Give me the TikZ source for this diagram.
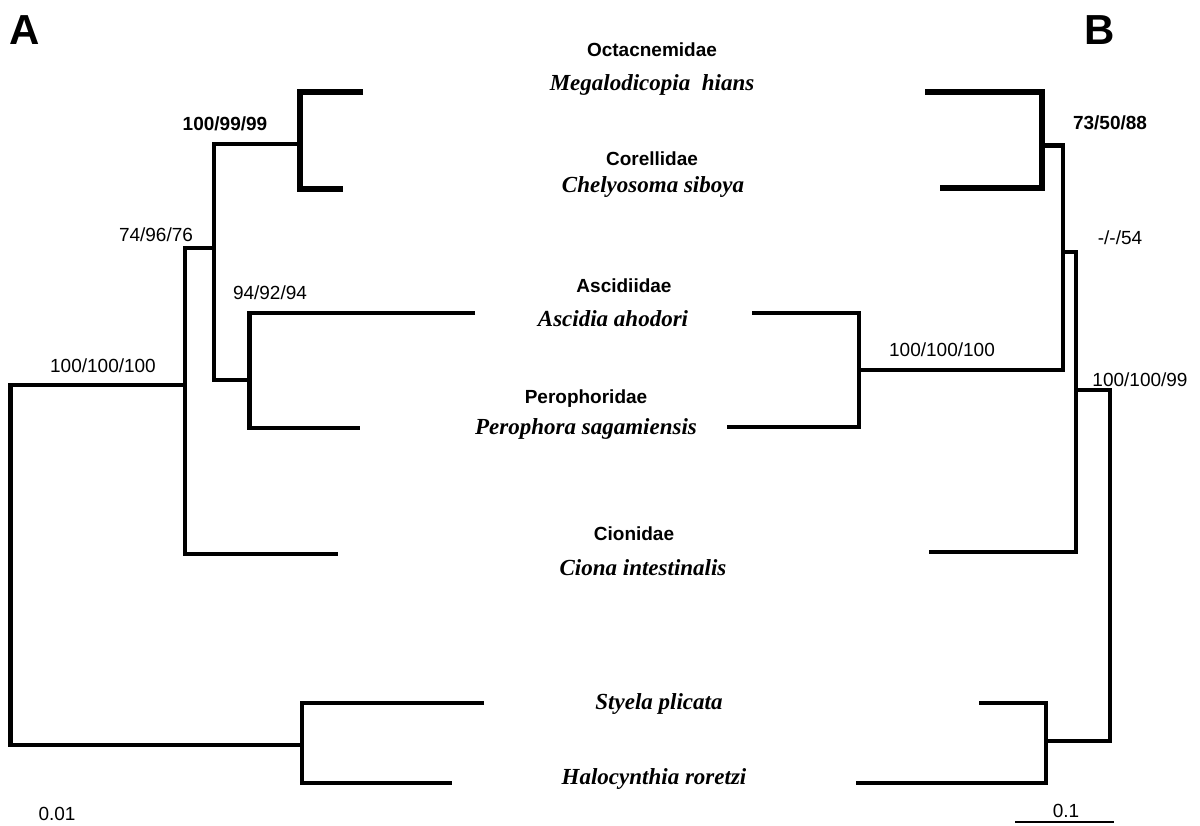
\documentclass[tikz,border=0pt]{standalone}
\usepackage{fontspec}
\setmainfont{Liberation Serif}
\setsansfont{Liberation Sans}
\begin{document}
\begin{tikzpicture}[x=1pt,y=-1pt,
  branch/.style={line width=4.5pt,line join=miter,line cap=butt},
  thickbranch/.style={line width=6.6pt,line join=miter,line cap=butt},
  scalebar/.style={line width=2pt},
  famlabel/.style={font=\sffamily\bfseries\fontsize{19}{19}\selectfont,inner sep=0pt,anchor=base},
  species/.style={font=\rmfamily\bfseries\itshape\fontsize{23}{23}\selectfont,inner sep=0pt,anchor=base},
  support/.style={font=\sffamily\fontsize{19}{19}\selectfont,inner sep=0pt},
  supportbold/.style={font=\sffamily\bfseries\fontsize{19}{19}\selectfont,inner sep=0pt},
  panellabel/.style={font=\sffamily\bfseries\fontsize{42}{42}\selectfont,inner sep=0pt}]
\useasboundingbox (0,0) rectangle (1200,826);

% panel letters
\node[panellabel] (pA) at (25,30) {A};
\node[panellabel] (pB) at (1100,30) {B};

% taxon labels
\node[famlabel] (fOct) at (652,57) {Octacnemidae};
\node[species]  (sMeg) at (652,91) {Megalodicopia\ \ hians};
\node[famlabel] (fCor) at (652,166) {Corellidae};
\node[species]  (sChe) at (653,193) {Chelyosoma siboya};
\node[famlabel] (fAsc) at (624,293) {Ascidiidae};
\node[species]  (sAsc) at (613,327) {Ascidia ahodori};
\node[famlabel] (fPer) at (586,403) {Perophoridae};
\node[species]  (sPer) at (586,434) {Perophora sagamiensis};
\node[famlabel] (fCio) at (634,540) {Cionidae};
\node[species]  (sCio) at (643,575) {Ciona intestinalis};
\node[species]  (sSty) at (659,709) {Styela plicata};
\node[species]  (sHal) at (654,784) {Halocynthia roretzi};

% ---------- tree A ----------
\coordinate (tAmeg) at (363,92);
\coordinate (tAche) at (343,189);
\coordinate (tAasc) at (475,313);
\coordinate (tAper) at (360,428);
\coordinate (tAcio) at (338,554);
\coordinate (tAsty) at (484,703);
\coordinate (tAhal) at (452,783);
\coordinate (nAmc)   at (300,144);
\coordinate (nAmca)  at (214,248);
\coordinate (nAap)   at (249.5,380);
\coordinate (nAcore) at (185,385);
\coordinate (nAsh)   at (302,745);
\coordinate (nAroot) at (10.5,565);

\draw[thickbranch] (tAmeg) -| (nAmc) |- (tAche);
\draw[branch] (nAmc) -| (nAmca) |- (nAap);
\draw[branch] (tAasc) -| (nAap) |- (tAper);
\draw[branch] (nAmca) -| (nAcore) |- (tAcio);
\draw[branch] (tAsty) -| (nAsh) |- (tAhal);
\draw[branch] (nAcore) -| (nAroot) |- (nAsh);

\node[supportbold] (lA1) at (225,124) {100/99/99};
\node[support] (lA2) at (156,235) {74/96/76};
\node[support] (lA3) at (270,293) {94/92/94};
\node[support] (lA4) at (103,366) {100/100/100};
\node[support] (lA5) at (57,814) {0.01};

% ---------- tree B ----------
\coordinate (tBmeg) at (925,92);
\coordinate (tBche) at (940,188);
\coordinate (tBasc) at (752,313);
\coordinate (tBper) at (727,427);
\coordinate (tBcio) at (929,552);
\coordinate (tBsty) at (979,703);
\coordinate (tBhal) at (856,783);
\coordinate (nBmc)   at (1042,145.5);
\coordinate (nBmcg)  at (1063,252);
\coordinate (nBap)   at (859,370);
\coordinate (nBcore) at (1076,390);
\coordinate (nBsh)   at (1046,741);
\coordinate (nBroot) at (1110,565);

\draw[thickbranch] (tBmeg) -| (nBmc) |- (tBche);
\draw[branch] (nBmc) -| (nBmcg) |- (nBap);
\draw[branch] (tBasc) -| (nBap) |- (tBper);
\draw[branch] (nBmcg) -| (nBcore) |- (tBcio);
\draw[branch] (tBsty) -| (nBsh) |- (tBhal);
\draw[branch] (nBcore) -| (nBroot) |- (nBsh);

\node[supportbold] (lB1) at (1110,123) {73/50/88};
\node[support] (lB2) at (1120,238) {-/-/54};
\node[support] (lB3) at (942,350) {100/100/100};
\node[support] (lB4) at (1140,380) {100/100/99};

% scale bar
\coordinate (sb1) at (1015,822);
\coordinate (sb2) at (1114,822);
\draw[scalebar] (sb1) -- (sb2);
\node[support] (lSB) at (1066,811) {0.1};
\end{tikzpicture}
\end{document}
